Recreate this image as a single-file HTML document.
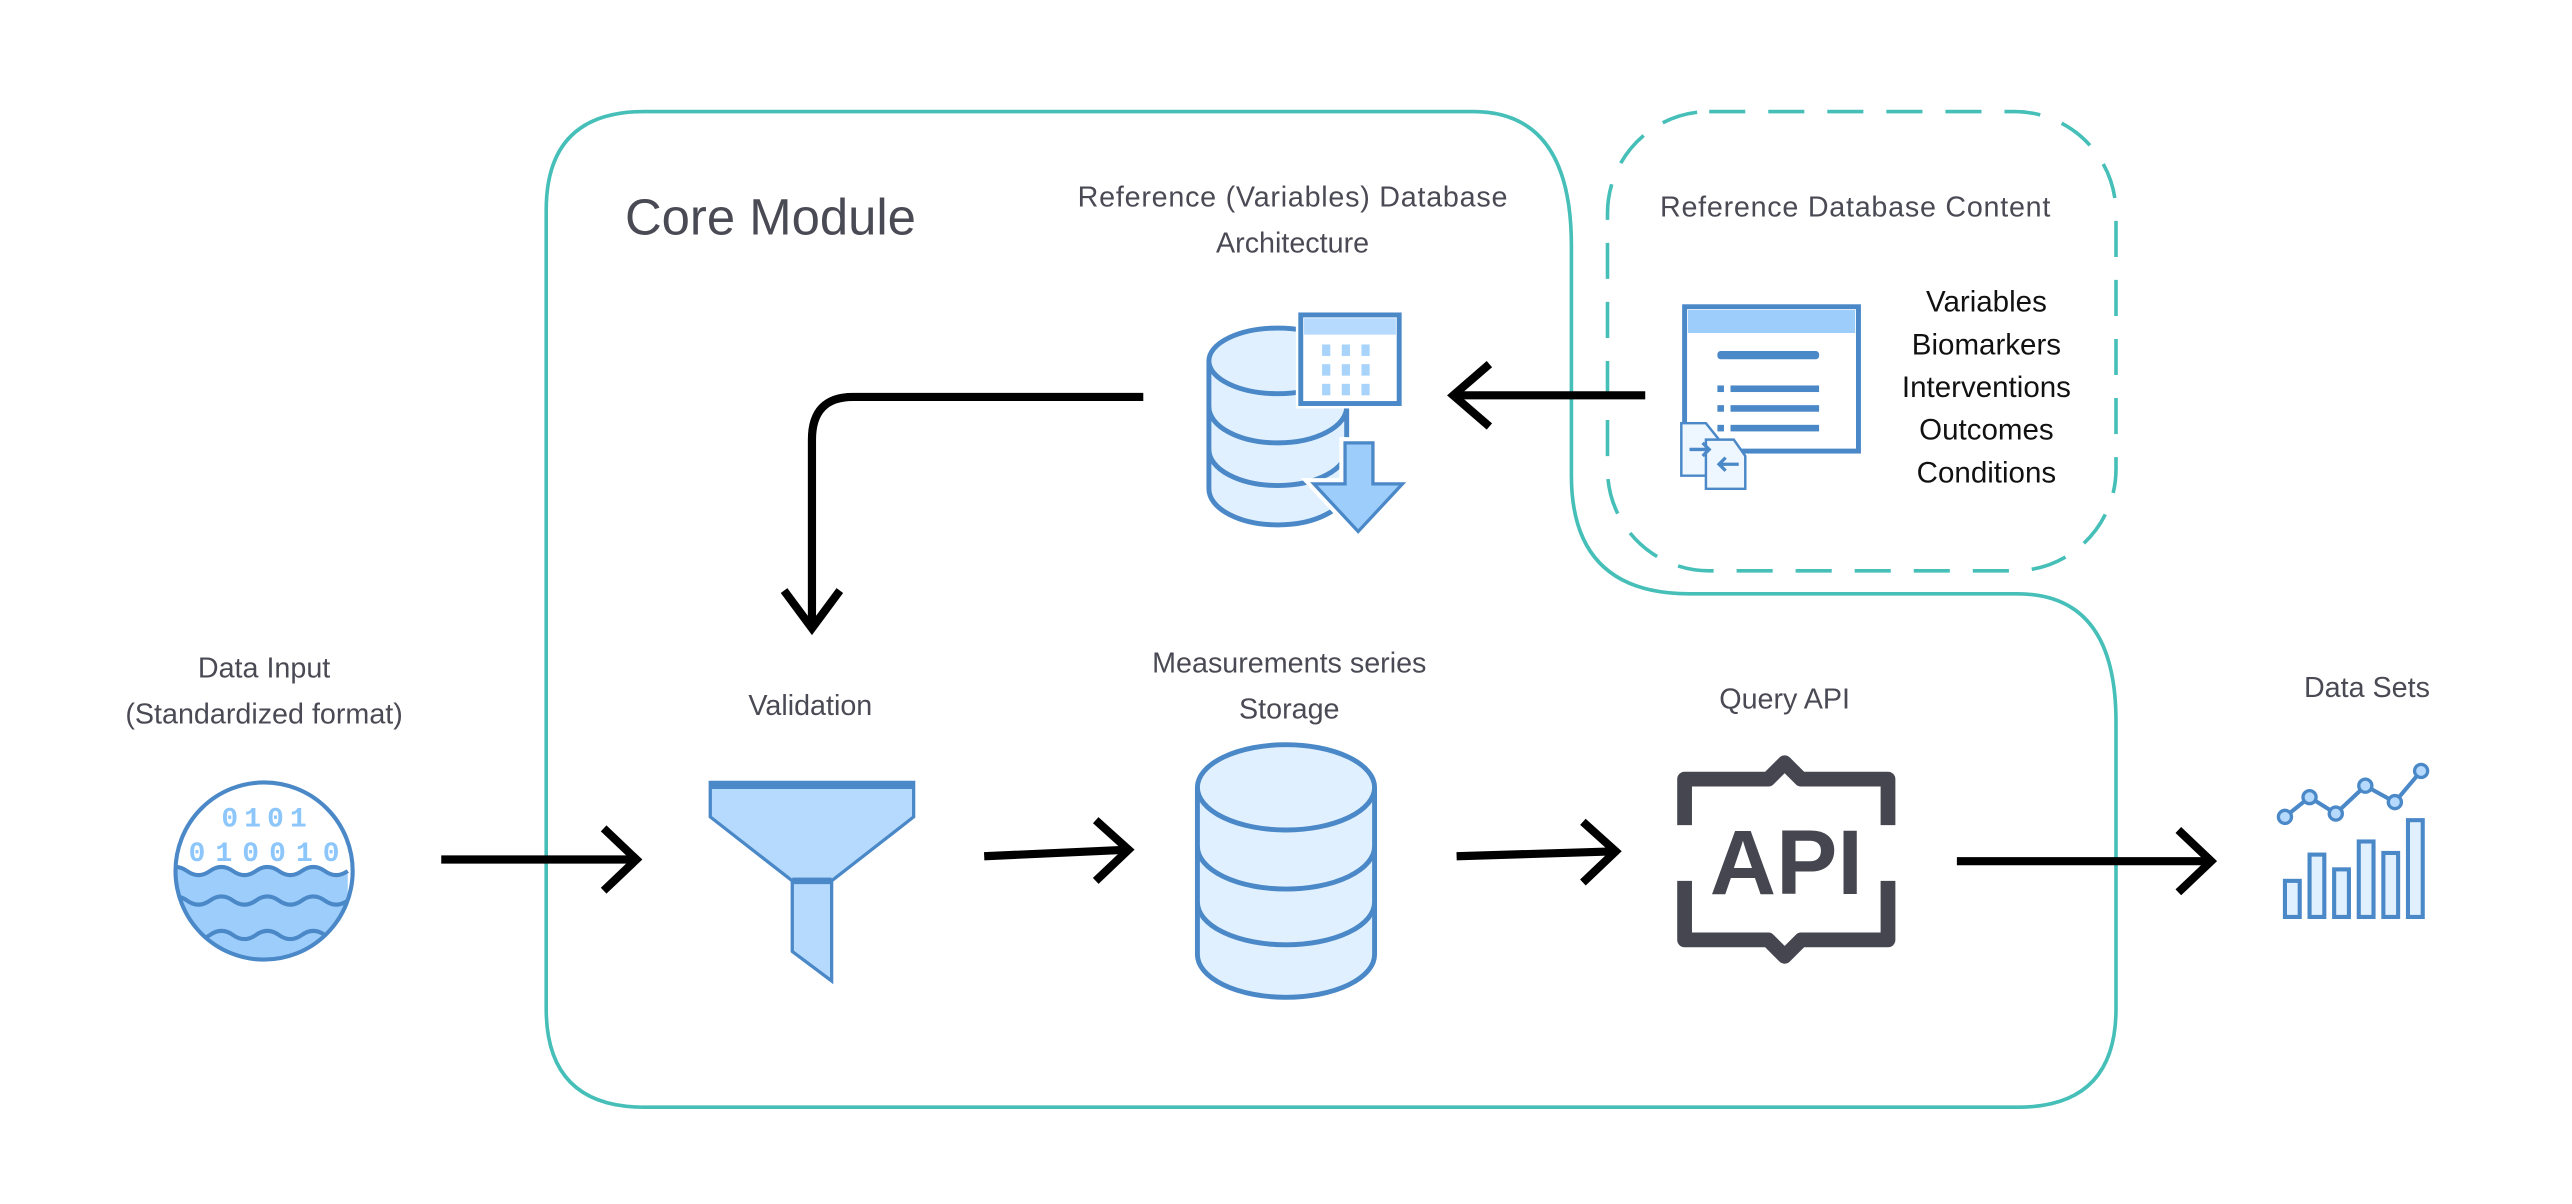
<!DOCTYPE html>
<html><head><meta charset="utf-8"><style>
html,body{margin:0;padding:0;background:#fff;}
svg{display:block;}
text{font-family:"Liberation Sans",sans-serif;}
.lb{fill:#4a4a55;font-size:17.5px;text-anchor:middle;}
.ls{fill:#111;font-size:18px;text-anchor:middle;}
.ar{stroke:#000;stroke-width:5;fill:none;stroke-linecap:butt;stroke-linejoin:miter;}
.ic{stroke:#4a88c8;stroke-width:2.5;}
</style></head><body>
<svg width="2572" height="1204" viewBox="0 0 1568 734" preserveAspectRatio="none" xmlns="http://www.w3.org/2000/svg">
<path d="M393,68 H898 Q958,68 958,150 V290 Q958,362 1030,362 H1230 Q1290,362 1290,440 V615 Q1290,675 1230,675 H393 Q333,675 333,615 V128 Q333,68 393,68 Z" fill="none" stroke="#45bfb8" stroke-width="2.2"/>
<rect x="980" y="68" width="310" height="280" rx="62" fill="none" stroke="#45bfb8" stroke-width="2.2" stroke-dasharray="22 14"/>

<text x="381" y="143" style="font-size:31px;fill:#4a4a55">Core Module</text>
<text class="lb" x="788" y="126" textLength="262">Reference (Variables) Database</text>
<text class="lb" x="788" y="154">Architecture</text>
<text class="lb" x="1131" y="132" textLength="238">Reference Database Content</text>
<text class="ls" x="1211" y="190">Variables</text>
<text class="ls" x="1211" y="216">Biomarkers</text>
<text class="ls" x="1211" y="242">Interventions</text>
<text class="ls" x="1211" y="268">Outcomes</text>
<text class="ls" x="1211" y="294">Conditions</text>
<text class="lb" x="161" y="413">Data Input</text>
<text class="lb" x="161" y="441">(Standardized format)</text>
<text class="lb" x="494" y="436">Validation</text>
<text class="lb" x="786" y="410">Measurements series</text>
<text class="lb" x="786" y="438">Storage</text>
<text class="lb" x="1088" y="432">Query API</text>
<text class="lb" x="1443" y="425">Data Sets</text>

<path class="ar" d="M697,242 H520 Q495,242 495,268 V383"/>
<path class="ar" d="M478,360 L495,383 L512,360"/>
<path class="ar" d="M1003,241 H886"/>
<path class="ar" d="M908,222 L886,241 L908,260"/>
<path class="ar" d="M269,524 H388"/><path class="ar" d="M368,505 L388,524 L368,543"/>
<path class="ar" d="M600,522 L688,518"/><path class="ar" d="M668,500 L688,518 L668,537"/>
<path class="ar" d="M888,522 L985,519"/><path class="ar" d="M965,501 L985,519 L965,538"/>
<path class="ar" d="M1193,525 H1348"/><path class="ar" d="M1328,506 L1348,525 L1328,544"/>

<clipPath id="cc"><circle cx="161" cy="531" r="54"/></clipPath>
<circle cx="161" cy="531" r="54" fill="#fff"/>
<path clip-path="url(#cc)" d="M100,531 q7,-5 14,0 t14,0 t14,0 t14,0 t14,0 t14,0 t14,0 t14,0 V600 H100Z" fill="#9dcdfb"/>
<path clip-path="url(#cc)" class="ic" fill="none" d="M100,531 q7,-5 14,0 t14,0 t14,0 t14,0 t14,0 t14,0 t14,0 t14,0 M100,549 q7,-5 14,0 t14,0 t14,0 t14,0 t14,0 t14,0 t14,0 t14,0 M100,570 q7,-5 14,0 t14,0 t14,0 t14,0 t14,0 t14,0 t14,0 t14,0"/>
<circle cx="161" cy="531" r="54" fill="none" class="ic"/>
<text x="161" y="504" textLength="52" style="font-size:17px;fill:#8cc6fb;text-anchor:middle;font-family:'Liberation Mono',monospace;font-weight:bold">0101</text>
<text x="161" y="525" textLength="92" style="font-size:17px;fill:#8cc6fb;text-anchor:middle;font-family:'Liberation Mono',monospace;font-weight:bold">010010</text>

<path d="M433,477 H557 V498 L507,537 V598 L483,580 V537 L433,498 Z" fill="#b5dafd" stroke="#4a88c8" stroke-width="2"/>
<rect x="433" y="477" width="124" height="4" fill="#4a88c8"/>
<rect x="483" y="535" width="24" height="4" fill="#4a88c8"/>

<g fill="#e0f0fe" stroke="#4a88c8" stroke-width="3">
<path d="M730,480 V582 A54,26 0 0 0 838,582 V480"/>
<ellipse cx="784" cy="480" rx="54" ry="26"/>
<path d="M730,516 A54,26 0 0 0 838,516 M730,550 A54,26 0 0 0 838,550" fill="none"/>
</g>

<!-- reference db icon -->
<g fill="#e0f0fe" stroke="#4a88c8" stroke-width="3">
<path d="M737,220 V298 A42,22 0 0 0 821,298 V220"/>
<ellipse cx="779" cy="220" rx="42" ry="20"/>
<path d="M737,248 A42,22 0 0 0 821,248 M737,274 A42,22 0 0 0 821,274" fill="none"/>
</g>
<rect x="793" y="192" width="60" height="54" fill="#fff" stroke="#fff" stroke-width="6"/>
<rect x="793" y="192" width="60" height="54" fill="#fff" stroke="#4a88c8" stroke-width="3"/>
<rect x="795" y="194" width="56" height="10" fill="#b5dafd"/>
<g fill="#a8d4fb"><rect x="806" y="210" width="5" height="7"/><rect x="818" y="210" width="5" height="7"/><rect x="830" y="210" width="5" height="7"/>
<rect x="806" y="222" width="5" height="7"/><rect x="818" y="222" width="5" height="7"/><rect x="830" y="222" width="5" height="7"/>
<rect x="806" y="234" width="5" height="7"/><rect x="818" y="234" width="5" height="7"/><rect x="830" y="234" width="5" height="7"/></g>
<path d="M820,270 H837 V295 H855 L828,324 L801,295 H820 Z" fill="#9dcdfb" stroke="#fff" stroke-width="7"/>
<path d="M820,270 H837 V295 H855 L828,324 L801,295 H820 Z" fill="#9dcdfb" stroke="#4a88c8" stroke-width="2"/>

<rect x="1027" y="187" width="106" height="88" fill="#fff" stroke="#4a88c8" stroke-width="3"/>
<rect x="1029" y="189" width="102" height="14" fill="#9dcdfb"/>
<rect x="1047" y="214" width="62" height="5" rx="2" fill="#4a88c8"/>
<g fill="#4a88c8"><rect x="1047" y="235" width="4" height="4"/><rect x="1055" y="235" width="54" height="4"/>
<rect x="1047" y="247" width="4" height="4"/><rect x="1055" y="247" width="54" height="4"/>
<rect x="1047" y="259" width="4" height="4"/><rect x="1055" y="259" width="54" height="4"/></g>
<path d="M1025,258 H1040 L1048,268 V290 H1025 Z" fill="#eef6ff" stroke="#4a88c8" stroke-width="1.5"/>
<path d="M1040,268 H1057 L1064,278 V298 H1040 Z" fill="#eef6ff" stroke="#4a88c8" stroke-width="1.5"/>
<path d="M1030,274 H1042 M1038,270 L1042,274 L1038,278 M1060,283 H1048 M1052,279 L1048,283 L1052,287" stroke="#4a88c8" stroke-width="2" fill="none"/>

<g fill="none" stroke="#45464f" stroke-width="9" stroke-linejoin="round">
<path d="M1027,503 V475 H1078 L1088,465 L1098,475 H1151 V503"/>
<path d="M1027,537 V573 H1078 L1088,583 L1098,573 H1151 V537"/>
</g>
<text x="1089" y="545" style="font-size:56px;font-weight:bold;fill:#45464f;text-anchor:middle">API</text>

<g fill="#e0f0fe" stroke="#4a88c8" stroke-width="2.5">
<rect x="1393" y="537" width="9" height="22"/><rect x="1408" y="521" width="9" height="38"/><rect x="1423" y="530" width="9" height="29"/>
<rect x="1438" y="513" width="9" height="46"/><rect x="1453" y="520" width="9" height="39"/><rect x="1468" y="500" width="9" height="59"/>
</g>
<polyline points="1393,498 1408,486 1424,496 1442,479 1460,489 1476,470" fill="none" stroke="#4a88c8" stroke-width="2.5"/>
<g fill="#b5dafd" stroke="#4a88c8" stroke-width="2"><circle cx="1393" cy="498" r="4"/><circle cx="1408" cy="486" r="4"/><circle cx="1424" cy="496" r="4"/><circle cx="1442" cy="479" r="4"/><circle cx="1460" cy="489" r="4"/><circle cx="1476" cy="470" r="4"/></g>
</svg>
</body></html>
